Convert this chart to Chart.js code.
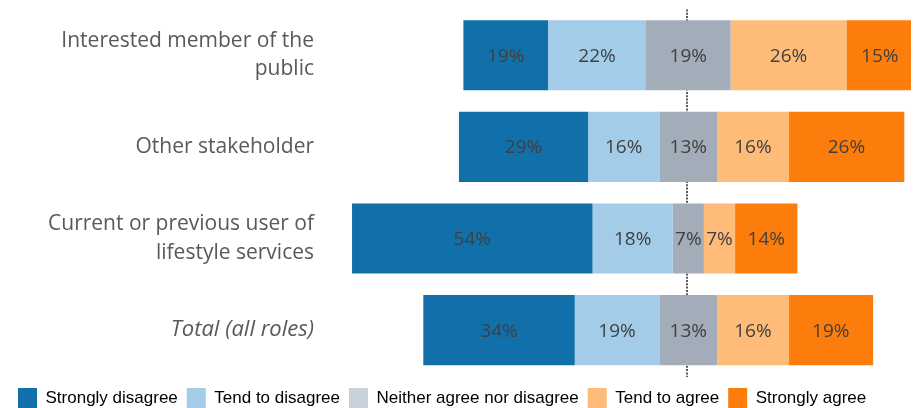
<!DOCTYPE html>
<html>
<head>
<meta charset="utf-8">
<script src="https://cdn.jsdelivr.net/npm/chart.js@4"></script>
<style>
  html, body { margin: 0; padding: 0; background: #fff; }
  #wrap { width: 917px; height: 408px; }
</style>
</head>
<body>
<div id="wrap"><canvas id="chart"></canvas></div>
<script>
const roles = [
   ["Interested member of the", "public"],
   "Other stakeholder",
   ["Current or previous user of", "lifestyle services"],
   "Total (all roles)"
];
const stronglyDisagree = [19, 29, 54, 34];
const tendDisagree = [22, 16, 18, 19];
const neither = [19, 13, 7, 13];
const tendAgree = [26, 16, 7, 16];
const stronglyAgree = [15, 26, 14, 19];

const seriesNames = ["Strongly disagree", "Tend to disagree", "Neither agree nor disagree", "Tend to agree", "Strongly agree"];
const barColors = ["#1170aa", "#a3cce9", "#a3acb9", "#ffbc79", "#fc7d0b"];
const legendColors = ["#1170aa", "#a3cce9", "#c8d0d9", "#ffbc79", "#fc7d0b"];

// build floating segments, centred on the middle of "neither"
function segments(k) {
   var out = [];
   for (var i = 0; i < roles.length; i++) {
      var half = neither[i] / 2;
      var s = [
         [-half - tendDisagree[i] - stronglyDisagree[i], -half - tendDisagree[i]],
         [-half - tendDisagree[i], -half],
         [-half, half],
         [half, half + tendAgree[i]],
         [half + tendAgree[i], half + tendAgree[i] + stronglyAgree[i]]
      ];
      out.push(s[k]);
   }
   return out;
}
const rawValues = [stronglyDisagree, tendDisagree, neither, tendAgree, stronglyAgree];

const datasets = seriesNames.map(function (name, k) {
   return {
      label: name,
      data: segments(k),
      raw: rawValues[k],
      backgroundColor: barColors[k],
      borderWidth: 0,
      grouped: false,
      barPercentage: 0.765,
      categoryPercentage: 1
   };
});

const segmentLabels = {
   id: "segmentLabels",
   afterDatasetsDraw: function (chart) {
      const ctx = chart.ctx;
      ctx.save();
      ctx.font = "19px 'Open Sans', sans-serif";
      ctx.fillStyle = "#404040";
      ctx.textAlign = "center";
      ctx.textBaseline = "middle";
      chart.data.datasets.forEach(function (ds, k) {
         chart.getDatasetMeta(k).data.forEach(function (bar, i) {
            const p = bar.getProps(["x", "base", "y"], true);
            ctx.fillText(ds.raw[i] + "%", (p.x + p.base) / 2, p.y + 1);
         });
      });
      ctx.restore();
   }
};

const centreLine = {
   id: "centreLine",
   beforeDatasetsDraw: function (chart) {
      const ctx = chart.ctx;
      const x = Math.round(chart.scales.x.getPixelForValue(0)) - 1;
      ctx.save();
      ctx.strokeStyle = "#595959";
      ctx.lineWidth = 2;
      ctx.setLineDash([2, 1.3]);
      ctx.beginPath();
      ctx.moveTo(x, chart.chartArea.top);
      ctx.lineTo(x, chart.chartArea.bottom + 1);
      ctx.stroke();
      ctx.restore();
   }
};

// nudge the legend row a little lower inside its box
const legendNudge = {
   id: "legendNudge",
   afterInit: function (chart) {
      const lg = chart.legend;
      if (!lg) return;
      const draw = lg.draw;
      lg.draw = function () {
         const ctx = this.ctx;
         ctx.save();
         ctx.translate(0, 3);
         draw.apply(this, arguments);
         ctx.restore();
      };
   }
};

new Chart(document.getElementById("chart"), {
   type: "bar",
   data: { labels: roles, datasets: datasets },
   options: {
      indexAxis: "y",
      responsive: true,
      maintainAspectRatio: false,
      animation: false,
      layout: { padding: { top: 9.4, right: 6, bottom: -7, left: 9 } },
      scales: {
         x: {
            display: false,
            min: -80,
            max: 50
         },
         y: {
            grid: { display: false, drawTicks: false },
            border: { display: false },
            afterFit: function (scale) {
               scale.width = 323;
               scale.paddingTop = 0;
               scale.paddingBottom = 0;
            },
            ticks: {
               padding: 18,
               color: "#595959",
               font: function (c) {
                  return {
                     family: "'Open Sans', sans-serif",
                     size: c.index === 3 ? 22 : 21,
                     style: c.index === 3 ? "italic" : "normal",
                     lineHeight: 1.35
                  };
               }
            }
         }
      },
      plugins: {
         tooltip: { enabled: false },
         legend: {
            position: "bottom",
            align: "start",
            labels: {
               boxWidth: 19,
               boxHeight: 20,
               padding: 9,
               color: "#404040",
               font: { family: "'Liberation Sans', Arial, sans-serif", size: 17 },
               generateLabels: function (chart) {
                  return seriesNames.map(function (n, k) {
                     return {
                        text: n,
                        fillStyle: legendColors[k],
                        strokeStyle: legendColors[k],
                        lineWidth: 0,
                        datasetIndex: k
                     };
                  });
               }
            }
         }
      }
   },
   plugins: [centreLine, segmentLabels, legendNudge]
});
</script>
</body>
</html>
